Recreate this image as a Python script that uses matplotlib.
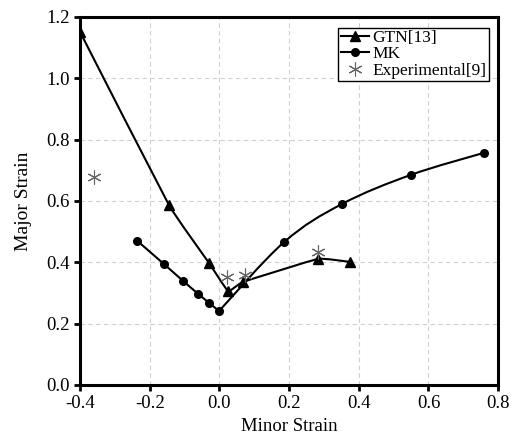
import numpy as np
import matplotlib.pyplot as plt
from matplotlib.path import Path
from matplotlib.patches import PathPatch
from matplotlib.lines import Line2D

# GTN model prediction
gtn_x = [-0.40, -0.145, -0.030, 0.025, 0.068, 0.283, 0.375]
gtn_y = [1.151, 0.587, 0.398, 0.306, 0.336, 0.411, 0.401]

# MK model prediction
mk_x = [-0.236, -0.159, -0.104, -0.061, -0.029, -0.001, 0.186, 0.352, 0.550, 0.760]
mk_y = [0.470, 0.394, 0.339, 0.297, 0.267, 0.241, 0.466, 0.590, 0.685, 0.757]

# experimental points
exp_x = [-0.360, 0.022, 0.074, 0.284]
exp_y = [0.678, 0.352, 0.359, 0.434]

x_ticks = [-0.4, -0.2, 0.0, 0.2, 0.4, 0.6, 0.8]
y_ticks = [0.0, 0.2, 0.4, 0.6, 0.8, 1.0, 1.2]

plt.rcParams['font.family'] = ['Liberation Serif', 'DejaVu Serif']


def smooth_path(xs, ys, k=0.17):
    # catmull-rom style bezier through the given points
    pts = np.column_stack([xs, ys])
    verts = [pts[0]]
    codes = [Path.MOVETO]
    n = len(pts)
    for i in range(n - 1):
        p0 = pts[i - 1] if i > 0 else pts[i]
        p1 = pts[i]
        p2 = pts[i + 1]
        p3 = pts[i + 2] if i + 2 < n else pts[i + 1]
        c1 = p1 + (p2 - p0) * k
        c2 = p2 - (p3 - p1) * k
        verts += [c1, c2, p2]
        codes += [Path.CURVE4] * 3
    return Path(verts, codes)


fig = plt.figure(figsize=(5.13, 4.43), dpi=100)
ax = fig.add_axes([0.156, 0.131, 0.815, 0.831])

ax.add_patch(PathPatch(smooth_path(gtn_x, gtn_y, 0.05), fill=False, lw=1.5, color='black', zorder=3))
ax.add_patch(PathPatch(smooth_path(mk_x[:6], mk_y[:6]), fill=False, lw=1.5, color='black', zorder=3))
ax.add_patch(PathPatch(smooth_path(mk_x[5:], mk_y[5:]), fill=False, lw=1.5, color='black', zorder=3))

ax.plot(gtn_x, gtn_y, linestyle='none', marker='^', ms=7.5, color='black', zorder=4)
ax.plot(mk_x, mk_y, linestyle='none', marker='o', ms=5.5, color='black', zorder=4)
ax.plot(exp_x, exp_y, linestyle='none', marker=(6, 2, 0), ms=10, mew=0.8,
        color='#666666', zorder=5)

ax.set_xlim(-0.4, 0.8)
ax.set_ylim(0.0, 1.2)
ax.set_xticks(x_ticks)
ax.set_yticks(y_ticks)
ax.set_xticklabels(['%.1f' % v for v in x_ticks])
ax.set_yticklabels(['%.1f' % v for v in y_ticks])
ax.tick_params(direction='out', length=4, width=2, labelsize=13.5)
for s in ax.spines.values():
    s.set_linewidth(2.2)
ax.grid(True, linestyle=(0, (4, 3)), color='#d0d0d0', lw=0.8)
ax.set_axisbelow(True)

ax.set_xlabel('Minor Strain', fontsize=13.5, labelpad=4)
ax.set_ylabel('Major Strain', fontsize=14, labelpad=10)

handles = [
    Line2D([], [], color='black', marker='^', ms=7.5, lw=1.5),
    Line2D([], [], color='black', marker='o', ms=5.5, lw=1.5),
    Line2D([], [], color='#666666', marker=(6, 2, 0), ms=10, lw=0, mew=0.8),
]
leg = ax.legend(handles, ['GTN[13]', 'MK', 'Experimental[9]'], loc='upper right',
                fontsize=12.5, fancybox=False, edgecolor='black', framealpha=1,
                handlelength=1.6, handletextpad=0.2, borderpad=0.15,
                labelspacing=0.0, borderaxespad=0.3, bbox_to_anchor=(0.99, 0.985))
leg.get_frame().set_linewidth(1.0)

fig.savefig('out.png', dpi=100)
